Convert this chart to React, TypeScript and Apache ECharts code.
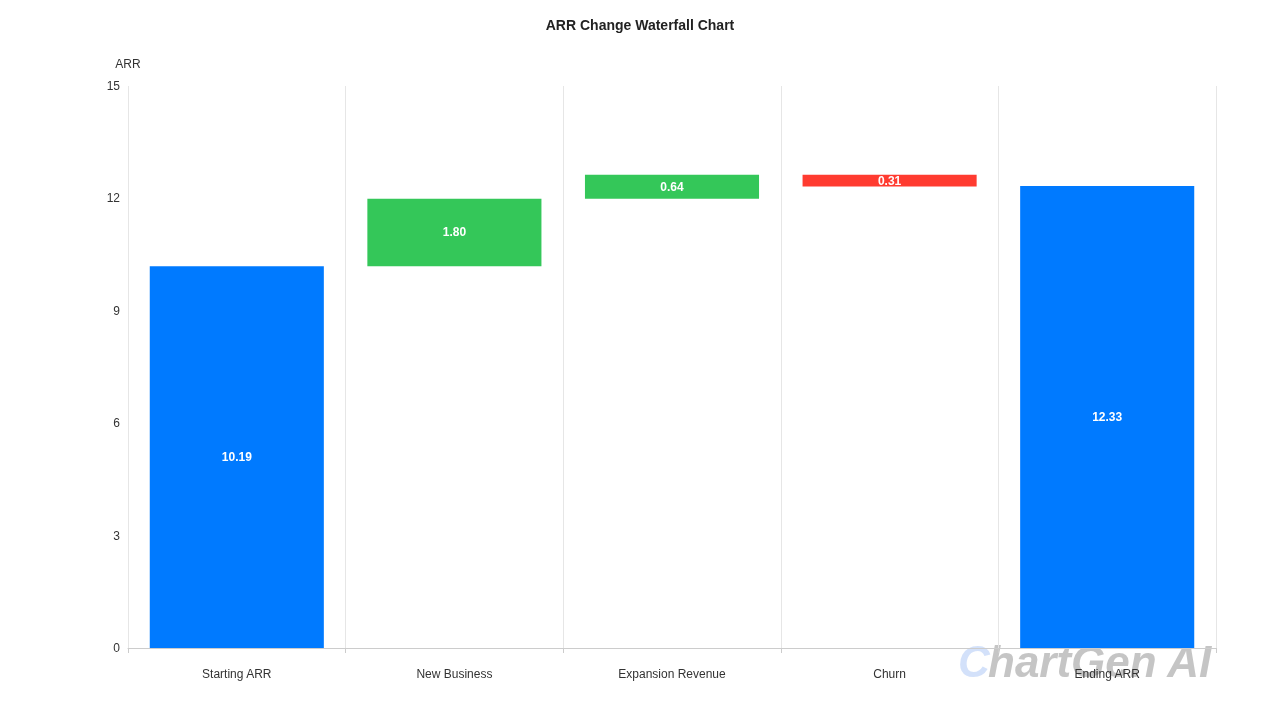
import React, { useEffect, useRef } from "react";
import * as echarts from "echarts";

const categories = ["Starting ARR", "New Business", "Expansion Revenue", "Churn", "Ending ARR"];
const baseValues = [0, 10.19, 11.99, 12.32, 0];
const deltaValues = [10.19, 1.8, 0.64, 0.31, 12.33];
const barColors = ["#007AFF", "#34C759", "#34C759", "#FF3B30", "#007AFF"];
const yTicks = { min: 0, max: 15, interval: 3 };

export default function App() {
  const ref = useRef<HTMLDivElement>(null);
  useEffect(() => {
    const chart = echarts.init(ref.current!, undefined, { renderer: "svg" });
    const font = "Liberation Sans, Arial, sans-serif";
    chart.setOption({
      animation: false,
      textStyle: { fontFamily: font },
      title: {
        text: "ARR Change Waterfall Chart",
        left: "center",
        top: 13,
        textStyle: { fontSize: 14, fontWeight: "bold", color: "#222", fontFamily: font },
      },
      grid: { left: 128, right: 64, top: 86, bottom: 72, containLabel: false },
      xAxis: {
        type: "category",
        data: categories,
        z: 10,
        axisLine: { lineStyle: { color: "#ccc" } },
        axisTick: { show: true, lineStyle: { color: "#ccc" }, length: 5 },
        axisLabel: { color: "#333", fontSize: 12, margin: 20 },
        splitLine: { show: true, lineStyle: { color: "#e6e6e6" } },
      },
      yAxis: {
        type: "value",
        name: "ARR",
        nameGap: 16,
        nameTextStyle: { color: "#333", fontSize: 12 },
        min: yTicks.min,
        max: yTicks.max,
        interval: yTicks.interval,
        axisLine: { show: false },
        axisTick: { show: false },
        splitLine: { show: false },
        axisLabel: { color: "#333", fontSize: 12, margin: 8 },
      },
      series: [
        {
          type: "bar",
          stack: "w",
          data: baseValues,
          itemStyle: { color: "transparent" },
          barWidth: "80%",
          silent: true,
        },
        {
          type: "bar",
          stack: "w",
          barWidth: "80%",
          data: deltaValues.map((v, i) => ({ value: v, itemStyle: { color: barColors[i] } })),
          label: {
            show: true,
            position: "inside",
            color: "#fff",
            fontWeight: "bold",
            fontSize: 12,
            formatter: (p: any) => Number(p.value).toFixed(2),
          },
        },
      ],
      graphic: [
        {
          type: "text",
          left: 958,
          top: 639,
          z: 1,
          style: {
            text: "C",
            font: "italic bold 44px Liberation Sans, Arial, sans-serif",
            fill: "rgba(175,200,245,0.55)",
          },
        },
        {
          type: "text",
          left: 988,
          top: 639,
          z: 1,
          style: {
            text: "hartGen AI",
            font: "italic bold 44px Liberation Sans, Arial, sans-serif",
            fill: "rgba(150,150,150,0.55)",
          },
        },
      ],
    });
    return () => chart.dispose();
  }, []);
  return (
    <div
      ref={ref}
      style={{ position: "fixed", left: 0, top: 0, width: 1280, height: 720 }}
    />
  );
}
